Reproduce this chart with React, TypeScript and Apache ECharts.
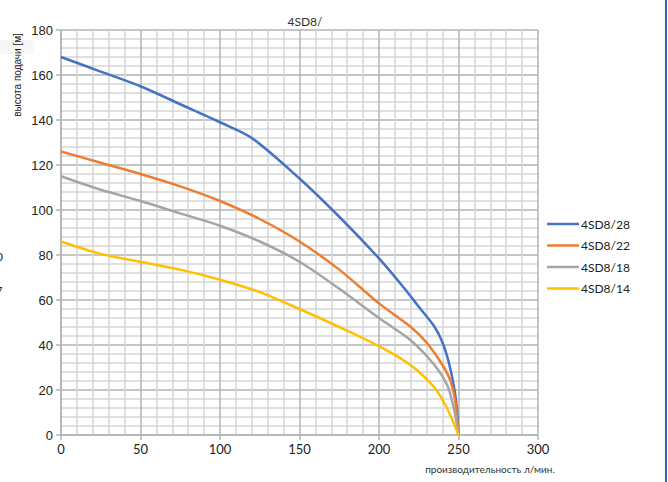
import React, { useEffect, useRef } from "react";
import * as echarts from "echarts";

const seriesNames = ["4SD8/28", "4SD8/22", "4SD8/18", "4SD8/14"];
const seriesColors = ["#4472C4", "#ED7D31", "#A5A5A5", "#FFC000"];

const flow28 = [0, 25, 50, 75, 100, 120, 150, 175, 200, 215, 225, 235, 240, 244, 247, 249, 250];
const head28 = [168, 161.5, 155, 147, 139, 132, 114, 97, 78.5, 66, 57, 48, 41, 32, 22, 12, 0];

const flow22 = [0, 25, 50, 75, 100, 125, 150, 175, 200, 220, 230, 240, 245, 248, 250];
const head22 = [126, 121, 116, 110.5, 104, 96, 86, 73.5, 58.5, 48, 41, 31, 24, 15, 0];

const flow18 = [0, 25, 50, 75, 100, 125, 150, 175, 200, 220, 235, 243, 247, 250];
const head18 = [115, 109, 104, 98.5, 93, 86, 77, 65, 52, 42, 31, 22, 12, 0];

const flow14 = [0, 25, 50, 75, 100, 125, 150, 175, 200, 220, 235, 242, 246, 250];
const head14 = [86, 80.5, 77, 73.5, 69, 63.5, 56, 48, 39.5, 31, 21, 13, 7, 0];

const flows = [flow28, flow22, flow18, flow14];
const heads = [head28, head22, head18, head14];

const title = "4SD8/";
const xName = "производительность л/мин.";
const yName = "высота подачи [м]";

export default function App() {
  const ref = useRef<HTMLDivElement>(null);
  useEffect(() => {
    if (!ref.current) return;
    const chart = echarts.init(ref.current, null, { renderer: "svg" });
    const font = "Lato, 'Open Sans', sans-serif";
    chart.setOption({
      animation: false,
      backgroundColor: "#ffffff",
      title: {
        text: title,
        left: 300,
        top: 10,
        textAlign: "center",
        textStyle: { fontSize: 12, fontWeight: "normal", color: "#333", fontFamily: font },
      },
      legend: {
        orient: "vertical",
        left: 542,
        top: 213,
        icon: "rect",
        itemWidth: 32,
        itemHeight: 2.5,
        itemGap: 9.5,
        textStyle: { fontSize: 12, color: "#222", fontFamily: font, padding: [0, 0, 0, -3] },
        data: seriesNames,
      },
      grid: { left: 61, right: 130, top: 30, bottom: 47, containLabel: false },
      xAxis: {
        type: "value",
        min: 0,
        max: 300,
        interval: 50,
        axisLine: { show: true, lineStyle: { color: "#b3b3b3", width: 1.5 } },
        axisTick: { show: true, length: 5, lineStyle: { color: "#b3b3b3", width: 1.5 } },
        axisLabel: { fontSize: 13, color: "#222", fontFamily: font, margin: 7 },
        splitLine: { show: true, lineStyle: { color: "#b3b3b3", width: 1.5 } },
        minorTick: { show: false, splitNumber: 5 },
        minorSplitLine: { show: true, lineStyle: { color: "#d6d6d6", width: 1.5 } },
      },
      yAxis: {
        type: "value",
        min: 0,
        max: 180,
        interval: 20,
        axisLine: { show: true, lineStyle: { color: "#b3b3b3", width: 1.5 } },
        axisTick: { show: true, length: 5, lineStyle: { color: "#b3b3b3", width: 1.5 } },
        axisLabel: { fontSize: 13, color: "#222", fontFamily: "'Liberation Sans', Arial, sans-serif", margin: 8 },
        splitLine: { show: true, lineStyle: { color: "#b3b3b3", width: 1.5 } },
        minorTick: { show: false, splitNumber: 5 },
        minorSplitLine: { show: true, lineStyle: { color: "#d6d6d6", width: 1.5 } },
      },
      series: seriesNames.map((name, i) => ({
        name,
        type: "line",
        smooth: 0.3,
        symbol: "none",
        color: seriesColors[i],
        lineStyle: { width: 2.5, color: seriesColors[i] },
        data: flows[i].map((x, j) => [x, heads[i][j]]),
      })),
      graphic: [
        {
          type: "text",
          x: 17,
          y: 75,
          rotation: Math.PI / 2,
          style: {
            text: yName,
            fontSize: 10,
            fill: "#222",
            fontFamily: "'Liberation Sans', Arial, sans-serif",
            align: "center",
            verticalAlign: "middle",
          },
        },
        {
          type: "text",
          x: 490,
          y: 469,
          style: {
            text: xName,
            fontSize: 10,
            fill: "#333",
            fontFamily: font,
            align: "center",
            verticalAlign: "middle",
          },
        },
        {
          type: "text",
          x: -4,
          y: 256,
          style: { text: "0", fontSize: 12, fill: "#222", fontFamily: font, verticalAlign: "middle" },
        },
        {
          type: "text",
          x: -4,
          y: 290,
          style: { text: "7", fontSize: 11, fill: "#222", fontFamily: font, verticalAlign: "middle" },
        },
        {
          type: "rect",
          shape: { x: 0, y: 40, width: 34, height: 14 },
          style: { fill: "#f7f7f7" },
          z: -1,
        },
        {
          type: "rect",
          shape: { x: 665, y: 0, width: 2, height: 482 },
          style: { fill: "#3c64b1" },
        },
      ],
    });
    return () => chart.dispose();
  }, []);
  return <div ref={ref} style={{ width: 668, height: 482, position: "absolute", left: 0, top: 0 }} />;
}
